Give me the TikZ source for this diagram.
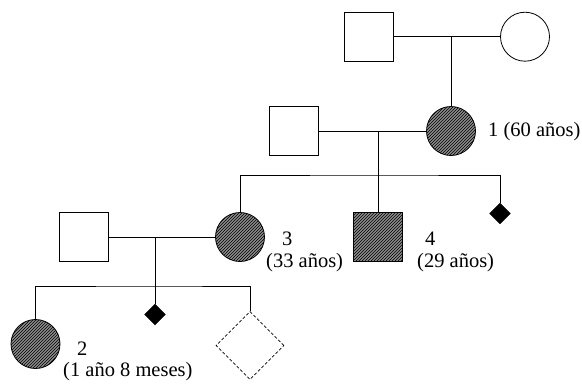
\documentclass[tikz,border=0pt]{standalone}
\usepackage{fontspec}
\setmainfont{Liberation Serif}
\usepackage{tikz}
\usetikzlibrary{shapes.geometric,patterns,positioning}
\tikzset{
  male/.style={rectangle,draw=black,fill=white,line width=0.8pt,minimum size=49pt,inner sep=0pt},
  female/.style={circle,draw=black,fill=white,line width=0.8pt,minimum size=49pt,inner sep=0pt},
  affected/.style={fill=black!45,postaction={pattern=north east lines}},
  abort/.style={diamond,draw=black,fill=black,minimum size=21pt,inner sep=0pt},
  unknown/.style={diamond,draw=black,dashed,dash pattern=on 3pt off 2pt,line width=0.6pt,minimum size=68pt,inner sep=0pt},
  tie/.style={line width=0.8pt},
  lbl/.style={inner sep=0pt,anchor=base west,font=\fontsize{20.5}{24}\selectfont},
}
\begin{document}
\begin{tikzpicture}[x=1pt,y=-1pt]
\useasboundingbox (0,0) rectangle (582,386);

% generation I
\node[male]   (gf) at (369,36.7) {};
\node[female] (gm) at (525,36.7) {};
\coordinate (u1) at (451,36.7);

% generation II
\node[male]            (sp1) at (293.5,131) {};
\node[female,affected] (p1)  at (451,131) {};
\coordinate (u2) at (378,131);
\coordinate (sib1) at (378,175);

% generation III
\node[female,affected] (p3)  at (240,237) {};
\node[male,affected]   (p4)  at (378,237) {};
\node[abort]           (ab1) at (500,213.5) {};
\node[male]            (sp2) at (83.5,237) {};
\coordinate (u3) at (155,237);
\coordinate (sib2) at (155,286);

% generation IV
\node[female,affected] (p2)  at (35.5,344) {};
\node[abort]           (ab2) at (155,314.5) {};
\node[unknown]         (un1) at (250,345.5) {};

% couples and descent
\draw[tie] (gf) -- (gm);
\draw[tie] (u1) -- (p1);
\draw[tie] (sp1) -- (p1);
\draw[tie] (u2) -- (sib1);
\draw[tie] (p3.north) |- (sib1) -| (ab1.north);
\draw[tie] (sib1) -- (p4.north);
\draw[tie] (sp2) -- (p3);
\draw[tie] (u3) -- (ab2.north);
\draw[tie] (p2.north) |- (sib2) -| (un1.north);

% labels
\node[lbl] (l1)  at (488,136) {1 (60 años)};
\node[lbl] (l3)  at (282,245) {3};
\node[lbl] (l3b) at (266,267) {(33 años)};
\node[lbl] (l4)  at (425,245) {4};
\node[lbl] (l4b) at (417,267) {(29 años)};
\node[lbl] (l2)  at (77,355) {2};
\node[lbl] (l2b) at (63,376) {(1 año 8 meses)};
\end{tikzpicture}
\end{document}
